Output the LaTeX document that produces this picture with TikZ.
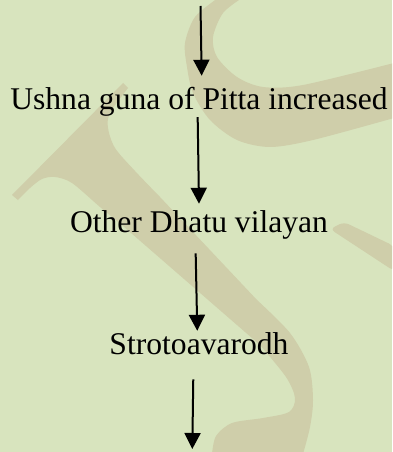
\documentclass[tikz,border=0pt]{standalone}
\usepackage{fontspec}
\setmainfont{Liberation Serif}
\usetikzlibrary{arrows.meta}
\definecolor{bggreen}{RGB}{216,228,190}
\definecolor{wmtan}{RGB}{207,206,170}

\begin{document}
\begin{tikzpicture}[x=0.75pt,y=-0.75pt,
  lbl/.style={anchor=base,inner sep=0pt,text height=16.2pt,text depth=5.2pt,font=\fontsize{23.7}{28}\selectfont},
  arr/.style={line width=1.5pt,-{Triangle[length=12pt,width=12pt]}}]
\path[use as bounding box] (0,0) rectangle (392,452);
\fill[bggreen] (0,0) rectangle (392,452);
% watermark
\begin{scope}
\clip (0,0) rectangle (392,452);
\fill[wmtan] plot[smooth] coordinates {(218,-2) (195,17) (185,43) (187,67) (193,93) (210,120) (237,140) (270,147) (313,140) (394,118)}
  -- plot[smooth] coordinates {(394,63) (303,85) (263,87) (237,77) (217,57) (213,37) (223,13) (242,-2)} -- cycle;
\fill[wmtan] (123,83) -- plot[smooth] coordinates {(128,88) (110,113) (108,128) (115,148) (135,171) (160,197)}
  -- plot[smooth] coordinates {(257,300) (290,333) (309,367) (313,400) (310,427) (303,454)}
  -- plot[smooth] coordinates {(212,454) (216,436) (232,423) (263,418) (289,412) (295,398) (286,377) (260,345)}
  -- plot[smooth] coordinates {(123,226) (100,207) (72,183) (55,177) (42,179) (30,188) (18,200)}
  -- (12,195) -- cycle;
\fill[wmtan,rounded corners=4pt] (330,229) -- (344,222) -- (394,246) -- (394,271) -- cycle;
\end{scope}
% flow
\coordinate (start) at (200.5,6);
\node[lbl] (ushna) at (199,110) {Ushna guna of Pitta increased};
\node[lbl] (dhatu) at (199,232) {Other Dhatu vilayan};
\node[lbl] (sroto) at (199,354) {Strotoavarodh};
\coordinate (end) at (192.3,449);
\draw[arr] (start) -- ([xshift=2pt,yshift=9.3pt]ushna.north);
\draw[arr] ([xshift=-1pt]ushna.south) -- ([yshift=4.8pt]dhatu.north);
\draw[arr] ([xshift=-2.5pt,yshift=-10.6pt]dhatu.south) -- ([xshift=-1.3pt,yshift=1pt]sroto.north);
\draw[arr] ([xshift=-4.3pt,yshift=-13.6pt]sroto.south) -- (end);
\end{tikzpicture}
\end{document}
